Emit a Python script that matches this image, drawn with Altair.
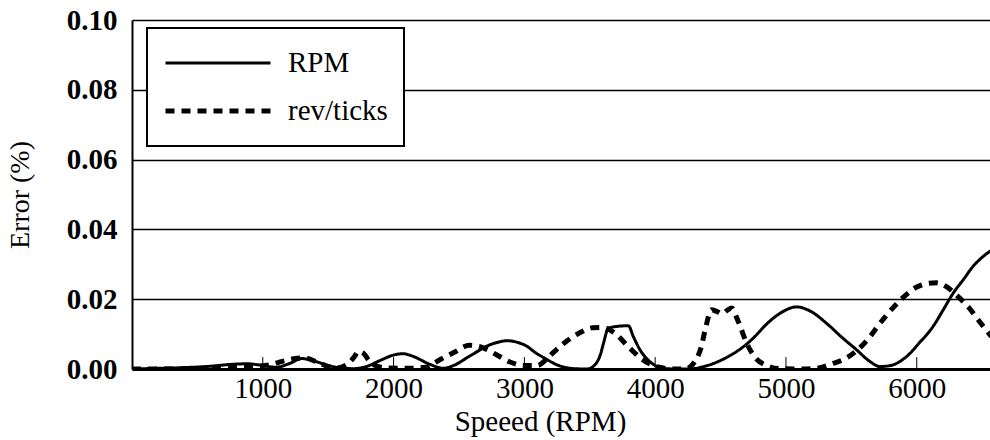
import altair as alt
import pandas as pd

# RPM-based error (solid)
rpm_solid = [0, 200, 400, 600, 750, 880, 1000, 1100, 1200, 1300, 1400, 1500, 1600, 1700, 1800,
             1900, 2000, 2070, 2150, 2280, 2380, 2470, 2560, 2640, 2710, 2790, 2870, 2950, 3020,
             3080, 3150, 3270, 3380, 3480, 3550, 3580, 3605, 3642, 3706, 3795, 3833, 3884, 3960,
             4060, 4160, 4270, 4350, 4440, 4560, 4675, 4770, 4850, 4970, 5080, 5190, 5310, 5430,
             5540, 5640, 5720, 5800, 5920, 6020, 6125, 6200, 6280, 6360, 6430, 6500, 6570]
err_solid = [0.0, 0.0002, 0.0004, 0.0008, 0.0013, 0.0015, 0.0010, 0.0005, 0.0015, 0.0030, 0.0022,
             0.0010, 0.0003, 0.0001, 0.0008, 0.0025, 0.0040, 0.0044, 0.0036, 0.0013, 0.0002, 0.0012,
             0.0032, 0.0050, 0.0065, 0.0076, 0.0081, 0.0076, 0.0065, 0.0048, 0.0032, 0.0009, 0.0001,
             0.0, 0.0017, 0.0040, 0.0074, 0.0117, 0.0122, 0.0124, 0.0093, 0.0055, 0.0021, 0.0002,
             0.0, 0.0, 0.0005, 0.0015, 0.0036, 0.0064, 0.0096, 0.0128, 0.0163, 0.0178, 0.0165,
             0.0131, 0.0090, 0.0055, 0.0022, 0.0007, 0.0010, 0.0035, 0.0075, 0.0122, 0.0168,
             0.0218, 0.0258, 0.0294, 0.0320, 0.0340]

# rev/ticks-based error (dotted)
rpm_dotted = [0, 200, 400, 600, 800, 950, 1050, 1150, 1250, 1320, 1400, 1480, 1560, 1640, 1700,
              1730, 1770, 1810, 1860, 1950, 2100, 2250, 2300, 2360, 2460, 2580, 2690, 2790, 2890,
              2990, 3100, 3160, 3220, 3320, 3420, 3520, 3600, 3700, 3800, 3900, 4030, 4150, 4230,
              4300, 4350, 4390, 4430, 4470, 4510, 4550, 4585, 4620, 4650, 4700, 4760, 4860, 4950,
              5100, 5230, 5360, 5460, 5600, 5740, 5890, 6000, 6080, 6150, 6230, 6300, 6400, 6490,
              6570]
err_dotted = [0.0, 0.0, 0.0, 0.0002, 0.0005, 0.0008, 0.0012, 0.0022, 0.0030, 0.0032, 0.0022,
              0.0010, 0.0003, 0.0012, 0.0035, 0.0050, 0.0045, 0.0025, 0.0010, 0.0003, 0.0002,
              0.0005, 0.0015, 0.0028, 0.0047, 0.0068, 0.0060, 0.0040, 0.0020, 0.0010, 0.0010,
              0.0025, 0.0047, 0.0079, 0.0103, 0.0118, 0.0119, 0.0100, 0.0062, 0.0028, 0.0005,
              0.0, 0.0, 0.0020, 0.0060, 0.0125, 0.0170, 0.0165, 0.0158, 0.0168, 0.0175, 0.0150,
              0.0122, 0.0074, 0.0035, 0.0009, 0.0001, 0.0, 0.0002, 0.0016, 0.0031, 0.0074, 0.0141,
              0.0203, 0.0235, 0.0245, 0.0247, 0.0235, 0.0213, 0.0175, 0.0131, 0.0093]

series_names = ["RPM", "rev/ticks"]
x_tick_values = [1000, 2000, 3000, 4000, 5000, 6000]
y_tick_values = [0.0, 0.02, 0.04, 0.06, 0.08, 0.10]

df = pd.concat([
    pd.DataFrame({"speed": rpm_solid, "error": err_solid, "series": series_names[0]}),
    pd.DataFrame({"speed": rpm_dotted, "error": err_dotted, "series": series_names[1]}),
])
ticks_df = pd.DataFrame({"speed": x_tick_values, "y0": 0.0, "y1": 0.0034})

FONT = "Liberation Serif"
x_scale = alt.Scale(domain=[0, 6560], nice=False, zero=False)
y_scale = alt.Scale(domain=[0, 0.1], nice=False)

lines = alt.Chart(df).mark_line(color="black", clip=True, interpolate="monotone").encode(
    x=alt.X("speed:Q", scale=x_scale,
            axis=alt.Axis(values=x_tick_values, ticks=False, grid=False, format="d",
                          labelFont=FONT, labelFontSize=29, labelColor="black",
                          labelPadding=5, domainColor="black", domainWidth=3,
                          title="Speeed (RPM)", titleFont=FONT, titleFontSize=29,
                          titleFontWeight="normal", titleColor="black", titlePadding=4,
                          titleX=408)),
    y=alt.Y("error:Q", scale=y_scale,
            axis=alt.Axis(values=y_tick_values, format=".2f", ticks=False, grid=True,
                          gridColor="black", gridWidth=1.5, labelFont=FONT, labelFontSize=29,
                          labelFontWeight="bold", labelColor="black", labelPadding=15,
                          domainColor="black", domainWidth=2,
                          title="Error (%)", titleFont=FONT, titleFontSize=28,
                          titleFontWeight="normal", titleColor="black", titlePadding=32)),
    strokeDash=alt.StrokeDash("series:N",
                              scale=alt.Scale(domain=series_names, range=[[1, 0], [9, 7]]),
                              legend=alt.Legend(title=None, orient="none", legendX=15, legendY=8,
                                                symbolType="stroke", symbolSize=11025,
                                                symbolStrokeWidth=4, symbolStrokeColor="black",
                                                labelFont=FONT, labelFontSize=29,
                                                labelColor="black", labelOffset=15,
                                                padding=16, strokeColor="black",
                                                fillColor="white", clipHeight=38,
                                                rowPadding=10)),
    strokeWidth=alt.StrokeWidth("series:N",
                                scale=alt.Scale(domain=series_names, range=[3, 5]),
                                legend=None),
)

xticks = alt.Chart(ticks_df).mark_rule(color="black", strokeWidth=1).encode(
    x=alt.X("speed:Q", scale=x_scale),
    y=alt.Y("y0:Q", scale=y_scale),
    y2="y1:Q",
)

chart = alt.layer(lines, xticks).properties(
    width=858, height=349,
    autosize=alt.AutoSizeParams(type="none"),
    padding={"left": 132, "top": 20, "right": 0, "bottom": 71},
    background="white",
).configure_view(strokeWidth=0).configure_legend(strokeWidth=2)

chart.save("out.html", embed_options={"renderer": "svg", "actions": False})
